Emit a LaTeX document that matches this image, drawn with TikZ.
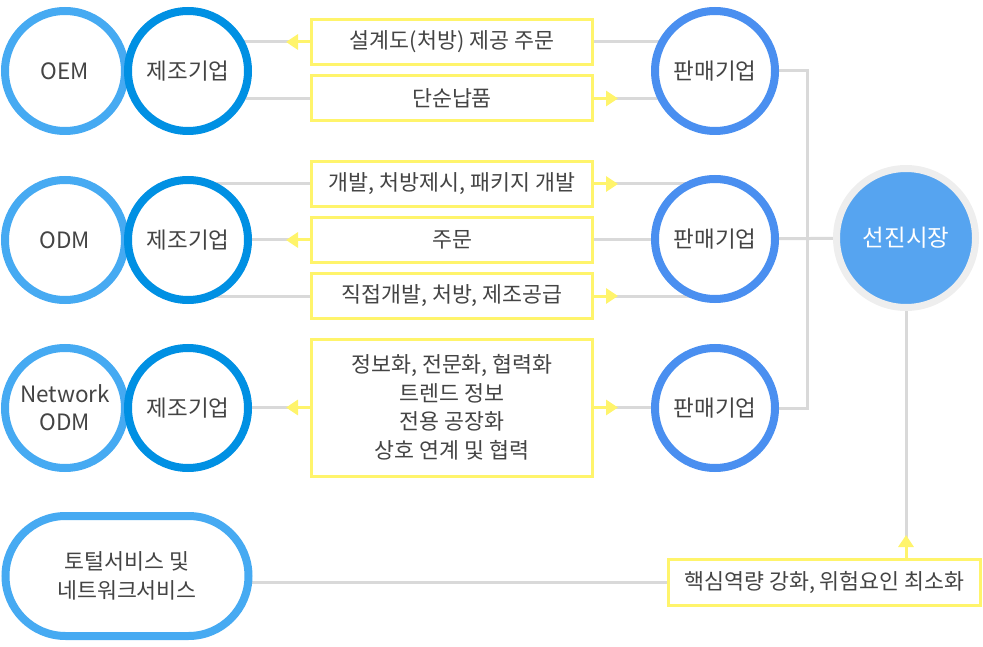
\documentclass[tikz,border=0pt]{standalone}
\usepackage{fontspec}
\setmainfont{Noto Sans CJK KR}
\usetikzlibrary{arrows.meta,backgrounds}
\definecolor{lblue}{HTML}{46AAF2}
\definecolor{dblue}{HTML}{0090E3}
\definecolor{sblue}{HTML}{4A8FF0}
\definecolor{mfill}{HTML}{56A4F0}
\definecolor{mring}{HTML}{EEEEEE}
\definecolor{ylw}{HTML}{FFF46B}
\definecolor{gline}{HTML}{D9D9D9}
\definecolor{txt}{HTML}{444444}
\tikzset{
  base/.style={inner sep=0pt, text=txt, font=\fontsize{21.7}{28.5}\selectfont, align=center},
  ring/.style={base, circle, minimum size=120pt, line width=8pt, fill=white, font=\fontsize{22.5}{28}\selectfont},
  typea/.style={ring, draw=lblue},
  typeb/.style={ring, draw=dblue},
  seller/.style={ring, draw=sblue},
  market/.style={base, circle, minimum size=139pt, line width=7pt, draw=mring, fill=mfill, text=white, font=\fontsize{23.5}{28}\selectfont},
  ybox/.style={base, rectangle, draw=ylw, line width=3pt, fill=white, minimum width=281pt, minimum height=45pt},
  stadium/.style={base, rectangle, rounded corners=60pt, draw=lblue, line width=8pt, fill=white, minimum width=243pt, minimum height=120pt},
  conn/.style={draw=gline, line width=3pt},
  yarrow/.style={draw=ylw, line width=3pt, -{Triangle[length=12pt,width=15pt]}}
}
\begin{document}
\begin{tikzpicture}[x=1pt,y=-1pt]
\useasboundingbox (0,0) rectangle (983,647);
% left pairs
\node[typea] (oem) at (65,71) {OEM};
\node[typeb] (m1) at (188,71) {제조기업};
\node[typea] (odm) at (65,240) {ODM};
\node[typeb] (m2) at (188,240) {제조기업};
\node[typea] (net) at (65,408) {Network\\ODM};
\node[typeb] (m3) at (188,408) {제조기업};
% sellers
\node[seller] (s1) at (715,71) {판매기업};
\node[seller] (s2) at (715,239) {판매기업};
\node[seller] (s3) at (715,408) {판매기업};
% market
\node[market] (mk) at (906,238) {선진시장};
% boxes
\node[ybox] (b1) at (452,42) {설계도(처방) 제공 주문};
\node[ybox] (b2) at (452,98.5) {단순납품};
\node[ybox] (b3) at (452,184) {개발, 처방제시, 패키지 개발};
\node[ybox] (b4) at (452,240) {주문};
\node[ybox] (b5) at (452,296) {직접개발, 처방, 제조공급};
\node[ybox, minimum height=137pt] (b6) at (452,407.5) {정보화, 전문화, 협력화\\트렌드 정보\\전용 공장화\\상호 연계 및 협력};
\node[ybox, minimum width=312pt, minimum height=46pt] (b7) at (824.5,582.5) {핵심역량 강화, 위험요인 최소화};
\node[stadium] (tot) at (127,576) {토털서비스 및\\네트워크서비스};
\coordinate (bus1) at (807,71);
\coordinate (bus3) at (807,408);
\begin{scope}[on background layer]
  % row 1
  \draw[conn] (m1.center |- b1.west) -- (b1.west);
  \draw[conn] (b1.east) -- (s1.center |- b1.east);
  \draw[conn] (m1.center |- b2.west) -- (b2.west);
  \draw[conn] (b2.east) -- (s1.center |- b2.east);
  % row 2
  \draw[conn] (m2.center |- b3.west) -- (b3.west);
  \draw[conn] (b3.east) -- (s2.center |- b3.east);
  \draw[conn] (m2.center |- b4.west) -- (b4.west);
  \draw[conn] (b4.east) -- (s2.center |- b4.east);
  \draw[conn] (m2.center |- b5.west) -- (b5.west);
  \draw[conn] (b5.east) -- (s2.center |- b5.east);
  % row 3
  \draw[conn] (m3.center |- b6.west) -- (b6.west);
  \draw[conn] (b6.east) -- (s3.center |- b6.east);
  % bus
  \draw[conn] (s1.center) -- (bus1) -- (bus3) -- (s3.center);
  \draw[conn] (s2.center) -- (mk.center);
  \draw[conn] (mk.center) -- (mk.center |- b7.north);
  \draw[conn] (tot.center |- b7.west) -- (b7.west);
\end{scope}
% yellow arrows
\draw[yarrow] (b1.west) -- ++(-24,0);
\draw[yarrow] (b2.east) -- ++(24,0);
\draw[yarrow] (b3.east) -- ++(24,0);
\draw[yarrow] (b4.west) -- ++(-24,0);
\draw[yarrow] (b5.east) -- ++(24,0);
\draw[yarrow] (b6.west) -- ++(-24,0);
\draw[yarrow] (b6.east) -- ++(24,0);
\draw[yarrow] (mk.center |- b7.north) -- ++(0,-23);
\end{tikzpicture}
\end{document}
